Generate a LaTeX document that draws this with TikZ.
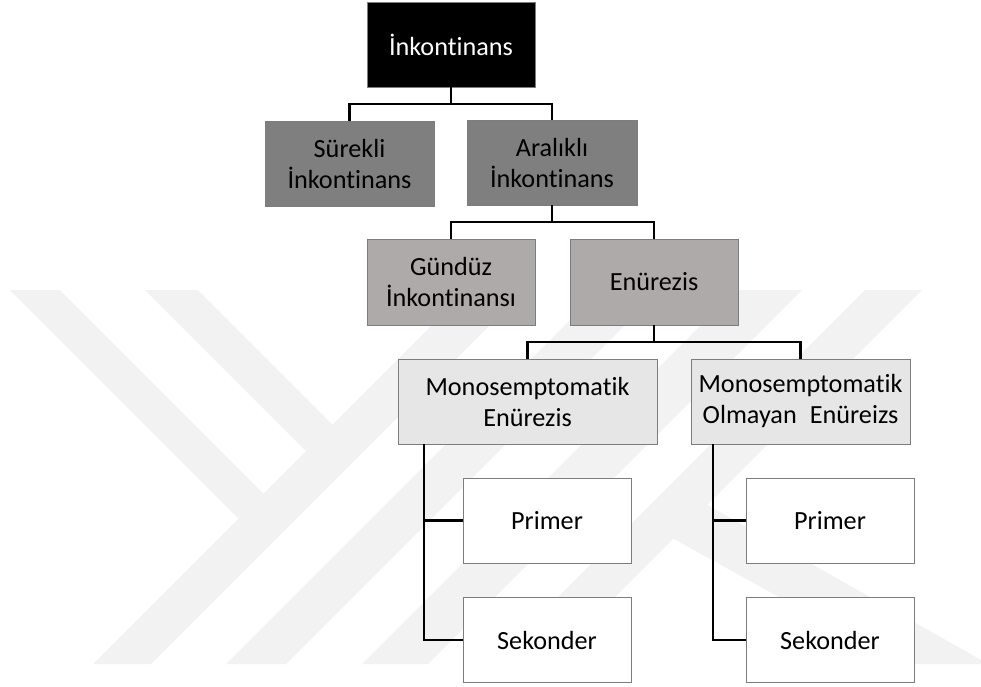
\documentclass[tikz,border=0pt]{standalone}
\usepackage{fontspec}
\setmainfont{Carlito}[Ligatures=NoCommon]
\definecolor{wm}{RGB}{242,242,242}
\definecolor{boxline}{RGB}{125,125,125}
\definecolor{lvlone}{RGB}{127,127,127}
\definecolor{lvltwo}{RGB}{174,170,170}
\definecolor{lvlthree}{RGB}{231,230,230}
\begin{document}
\begin{tikzpicture}[x=1pt,y=-1pt,
  box/.style={draw=boxline, line width=0.9pt, inner sep=0pt, align=center,
    minimum height=85pt, font=\fontsize{26.2}{31}\selectfont, text=black},
  conn/.style={line width=2.7pt, draw=black},
  wmark/.style={fill=wm, draw=none}]
\useasboundingbox (0,0) rectangle (981,686);
% watermark
\fill[wmark] (10,290) -- (60,290) -- (263.5,493.5) -- (238.5,518.5) -- cycle;
\fill[wmark] (145,290) -- (198,290) -- (332.5,424.5) -- (306,451) -- cycle;
\fill[wmark] (93,664) -- (151,664) -- (525,290) -- (467,290) -- cycle;
\fill[wmark] (226,664) -- (286,664) -- (660,290) -- (600,290) -- cycle;
\fill[wmark] (362,664) -- (428,664) -- (802,290) -- (736,290) -- cycle;
\fill[wmark] (491,664) -- (548,664) -- (922,290) -- (865,290) -- cycle;
\fill[wmark] (690,495) -- (981,660) -- (981,664) -- (900,664) -- (665,534) -- cycle;
% nodes
\node[box, fill=black, text=white, minimum width=168pt] (top) at (451,44.5) {İnkontinans};
\node[box, fill=lvlone, minimum width=169pt] (sur) at (349.5,163.5) {Sürekli\\İnkontinans};
\node[box, fill=lvlone, minimum width=170pt] (ara) at (552,162.5) {Aralıklı\\İnkontinans};
\node[box, fill=lvltwo, minimum width=168pt, minimum height=86pt] (gun) at (451,282) {Gündüz\\İnkontinansı};
\node[box, fill=lvltwo, minimum width=168pt, minimum height=86pt] (enu) at (654,282) {Enürezis};
\node[box, fill=lvlthree, minimum width=259pt] (mono) at (527.5,401.5) {Monosemptomatik\\Enürezis};
\node[box, fill=lvlthree, minimum width=219pt] (nmono) at (800.5,401.5) {Monosemptomatik\\Olmayan\hspace{0.5em}Enüreizs};
\node[box, fill=white, minimum width=168pt] (p1) at (547,520.5) {Primer};
\node[box, fill=white, minimum width=168pt] (s1) at (547,640) {Sekonder};
\node[box, fill=white, minimum width=168pt] (p2) at (830,520.5) {Primer};
\node[box, fill=white, minimum width=168pt] (s2) at (830,640) {Sekonder};
% junctions
\coordinate (j1) at (451,104);
\coordinate (j2) at (552,222);
\coordinate (j3) at (654,342);
\coordinate (m1) at (424,444);
\coordinate (m2) at (713,444);
% connectors
\draw[conn] (top.south) -- (j1);
\draw[conn] (sur.north) |- (j1) -| (ara.north);
\draw[conn] (ara.south) -- (j2);
\draw[conn] (gun.north) |- (j2) -| (enu.north);
\draw[conn] (enu.south) -- (j3);
\draw[conn] (mono.north) |- (j3) -| (nmono.north);
\draw[conn] (m1) |- (s1.west);
\draw[conn] (m1 |- p1.west) -- (p1.west);
\draw[conn] (m2) |- (s2.west);
\draw[conn] (m2 |- p2.west) -- (p2.west);
\end{tikzpicture}
\end{document}
